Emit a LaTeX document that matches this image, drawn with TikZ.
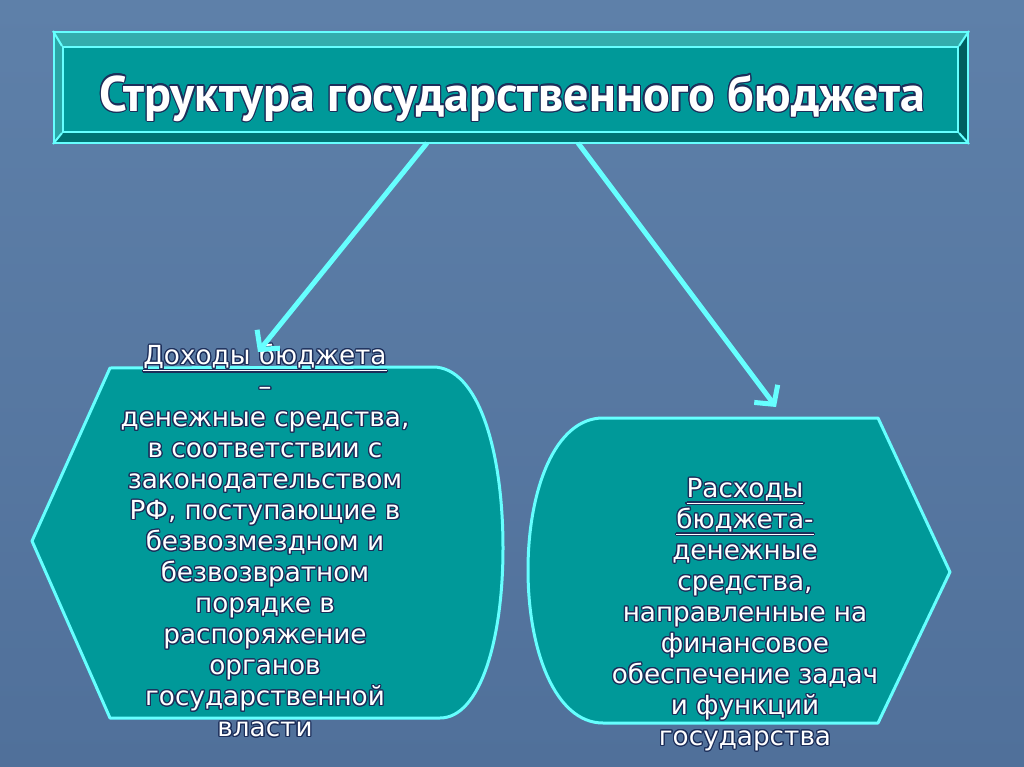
\documentclass[tikz,border=0pt]{standalone}
\usepackage{fontspec}
\setmainfont{DejaVu Sans}
\newfontfamily\titlefont{PT Sans}
\usepackage[copies]{contour}
\usetikzlibrary{arrows.meta,calc}
\definecolor{bgtop}{HTML}{5E80A9}
\definecolor{bgbot}{HTML}{50709A}
\definecolor{tealf}{HTML}{009999}
\definecolor{cyanl}{HTML}{66FFFF}
\definecolor{bevtop}{HTML}{33ADAD}
\definecolor{bevleft}{HTML}{2AA5A5}
\definecolor{bevright}{HTML}{005F5F}
\definecolor{bevbot}{HTML}{007373}
\definecolor{outl}{HTML}{1C2E5A}
\contourlength{0.9pt}
\newcommand{\ct}[1]{\contour{outl}{#1}}
\tikzset{
  shapebox/.style={fill=tealf, draw=cyanl, line width=2.25pt, line join=round},
  bodytext/.style={text=white, align=center, font=\fontsize{19.7}{23.25}\selectfont, inner sep=0pt},
  conn/.style={draw=cyanl, line width=3.75pt, -{Straight Barb[length=10pt,width=22pt,line width=3.75pt]}},
  bevline/.style={draw=cyanl, line width=1.5pt}
}
\begin{document}
\begin{tikzpicture}[x=0.75pt,y=-0.75pt]
\useasboundingbox (0,0) rectangle (1024,767);
\shade[top color=bgtop,bottom color=bgbot] (0,0) rectangle (1024,767);
% title bevel frame
\fill[bevtop] (54,32) -- (968,32) -- (958,47) -- (63,47) -- cycle;
\fill[bevright] (968,32) -- (968,143) -- (958,132) -- (958,47) -- cycle;
\fill[bevbot] (54,143) -- (968,143) -- (958,132) -- (63,132) -- cycle;
\fill[bevleft] (54,32) -- (63,47) -- (63,132) -- (54,143) -- cycle;
\node[bevline, minimum width=685.5pt, minimum height=83.25pt, inner sep=0pt] (frame) at (511,87.5) {};
\node[bevline, fill=tealf, minimum width=671.25pt, minimum height=63.75pt, inner sep=0pt] (face) at (510.5,89.5) {};
\draw[bevline] (frame.north west) -- (face.north west) (frame.north east) -- (face.north east)
  (frame.south west) -- (face.south west) (frame.south east) -- (face.south east);
\node[anchor=base, text=white, font=\titlefont\bfseries\fontsize{37.5}{40}\selectfont, inner sep=0pt] (title) at (512,111) {\ct{Структура государственного бюджета}};
% left shape
\path[shapebox] (110,368) -- (433,367) .. controls (478,367) and (503,450) .. (503,548)
  .. controls (503,640) and (480,718) .. (440,718) -- (110,718) -- (32,541) -- cycle;
\node[bodytext, anchor=north] (income) at (265,344) {\ct{\underline{Доходы бюджета}}\\ \ct{–}\\ \ct{денежные средства,}\\ \ct{в соответствии с}\\ \ct{законодательством}\\ \ct{РФ, поступающие в}\\ \ct{безвозмездном и}\\ \ct{безвозвратном}\\ \ct{порядке в}\\ \ct{распоряжение}\\ \ct{органов}\\ \ct{государственной}\\ \ct{власти}};
% right shape
\path[shapebox] (878,418) -- (950,572) -- (878,723) -- (603,723) .. controls (555,723) and (528,650) .. (528,570)
  .. controls (528,490) and (555,418) .. (603,418) -- cycle;
\node[bodytext, anchor=north] (spend) at (745,478) {\ct{\underline{Расходы}}\\ \ct{\underline{бюджета-}}\\ \ct{денежные}\\ \ct{средства,}\\ \ct{направленные на}\\ \ct{финансовое}\\ \ct{обеспечение задач}\\ \ct{и функций}\\ \ct{государства}};
% connectors
\coordinate (s1) at (427,143);
\coordinate (e1) at (258,352);
\coordinate (s2) at (578,143);
\coordinate (e2) at (776,407);
\draw[conn] (s1) -- (e1);
\draw[conn] (s2) -- (e2);
\end{tikzpicture}
\end{document}
